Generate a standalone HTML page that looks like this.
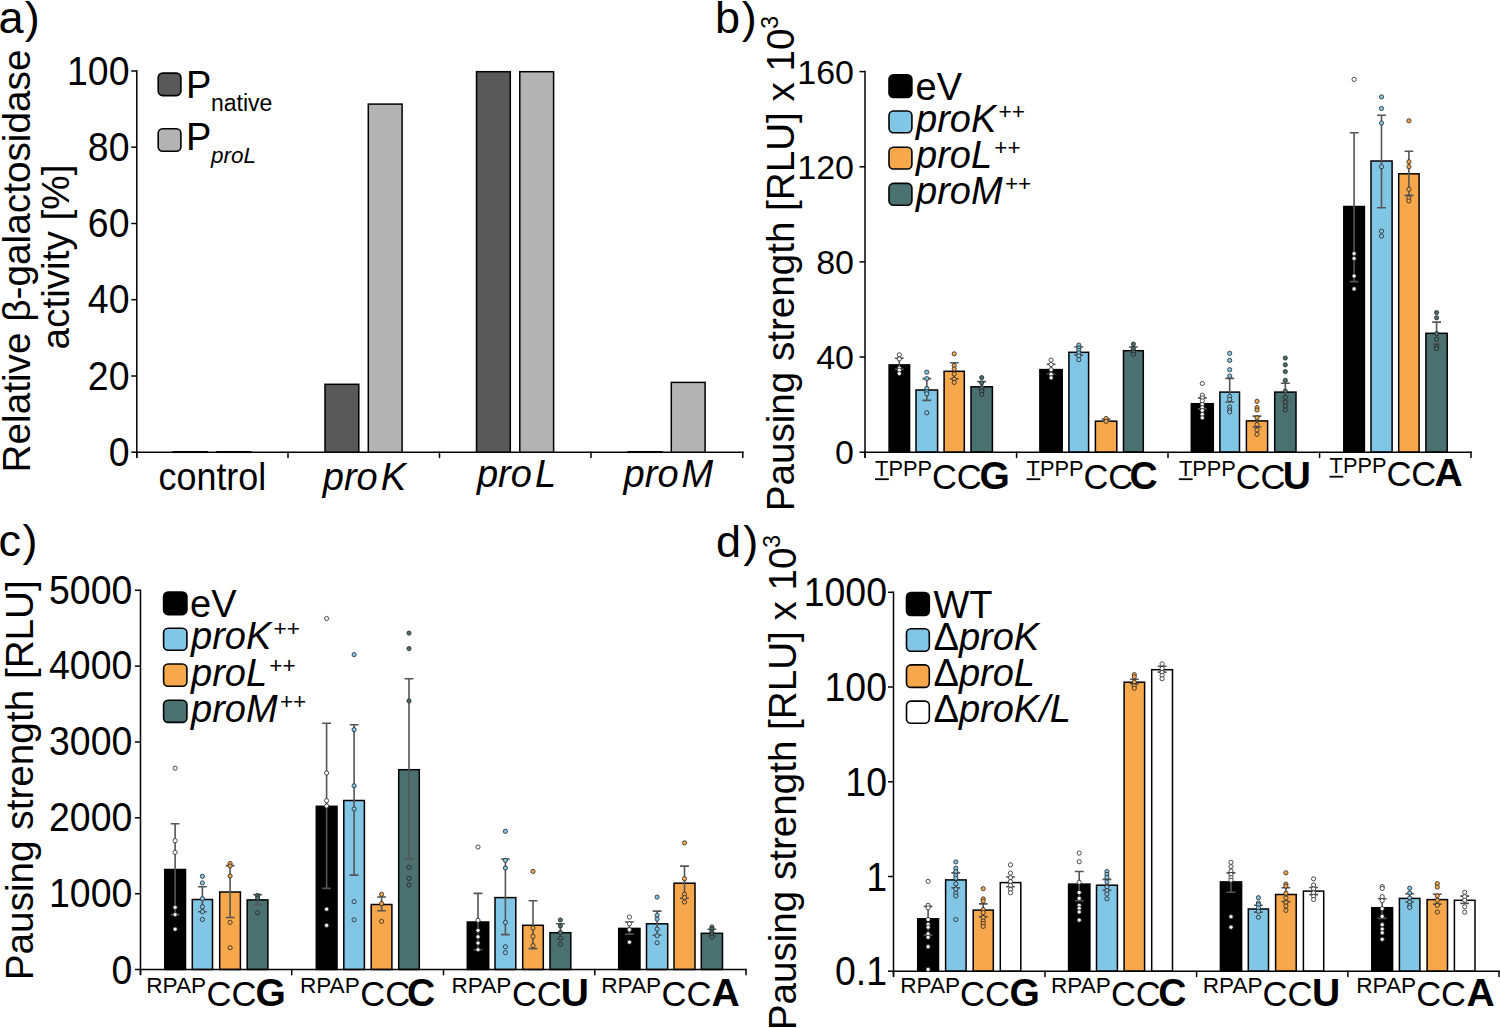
<!DOCTYPE html>
<html><head><meta charset="utf-8"><style>
html,body{margin:0;padding:0;background:#fff;overflow:hidden;}
svg{display:block;font-family:"Liberation Sans",sans-serif;}
</style></head><body>
<svg width="1500" height="1028" viewBox="0 0 1500 1028">
<rect width="1500" height="1028" fill="#fff"/>
<text x="-1.5" y="33.0" font-size="45" >a<tspan dx="1.3">)</tspan></text>
<text x="715.0" y="33.0" font-size="45" >b<tspan dx="1.8">)</tspan></text>
<text x="-1.5" y="556.0" font-size="45" >c<tspan dx="1.5">)</tspan></text>
<text x="716.0" y="556.5" font-size="45" >d<tspan dx="2.2">)</tspan></text>
<line x1="136.8" y1="70.2" x2="136.8" y2="457.5" stroke="#000" stroke-width="1.5"/>
<line x1="136.1" y1="452.2" x2="743.5" y2="452.2" stroke="#000" stroke-width="1.5"/>
<line x1="131.3" y1="452.2" x2="136.8" y2="452.2" stroke="#000" stroke-width="1.5"/>
<text transform="translate(129.5,465.8) scale(0.96,1.04)" font-size="39" text-anchor="end" >0</text>
<line x1="131.3" y1="376.0" x2="136.8" y2="376.0" stroke="#000" stroke-width="1.5"/>
<text transform="translate(129.5,389.6) scale(0.96,1.04)" font-size="39" text-anchor="end" >20</text>
<line x1="131.3" y1="299.7" x2="136.8" y2="299.7" stroke="#000" stroke-width="1.5"/>
<text transform="translate(129.5,313.3) scale(0.96,1.04)" font-size="39" text-anchor="end" >40</text>
<line x1="131.3" y1="223.5" x2="136.8" y2="223.5" stroke="#000" stroke-width="1.5"/>
<text transform="translate(129.5,237.1) scale(0.96,1.04)" font-size="39" text-anchor="end" >60</text>
<line x1="131.3" y1="147.2" x2="136.8" y2="147.2" stroke="#000" stroke-width="1.5"/>
<text transform="translate(129.5,160.8) scale(0.96,1.04)" font-size="39" text-anchor="end" >80</text>
<line x1="131.3" y1="71.0" x2="136.8" y2="71.0" stroke="#000" stroke-width="1.5"/>
<text transform="translate(129.5,84.6) scale(0.96,1.04)" font-size="39" text-anchor="end" >100</text>
<line x1="136.8" y1="452.2" x2="136.8" y2="457.5" stroke="#000" stroke-width="1.5" stroke-linecap="round"/>
<line x1="288.0" y1="452.2" x2="288.0" y2="457.5" stroke="#000" stroke-width="1.5" stroke-linecap="round"/>
<line x1="439.5" y1="452.2" x2="439.5" y2="457.5" stroke="#000" stroke-width="1.5" stroke-linecap="round"/>
<line x1="591.0" y1="452.2" x2="591.0" y2="457.5" stroke="#000" stroke-width="1.5" stroke-linecap="round"/>
<line x1="742.8" y1="452.2" x2="742.8" y2="457.5" stroke="#000" stroke-width="1.5" stroke-linecap="round"/>
<rect x="173.5" y="451.8" width="33.8" height="0.5" fill="#595959" stroke="#000" stroke-width="1.5"/>
<rect x="216.8" y="451.8" width="33.8" height="0.5" fill="#b3b3b3" stroke="#000" stroke-width="1.5"/>
<rect x="325.0" y="384.3" width="33.8" height="67.9" fill="#595959" stroke="#000" stroke-width="1.5"/>
<rect x="368.3" y="104.1" width="33.8" height="348.1" fill="#b3b3b3" stroke="#000" stroke-width="1.5"/>
<rect x="476.5" y="71.7" width="33.8" height="380.5" fill="#595959" stroke="#000" stroke-width="1.5"/>
<rect x="519.8" y="71.7" width="33.8" height="380.5" fill="#b3b3b3" stroke="#000" stroke-width="1.5"/>
<rect x="628.0" y="451.8" width="33.8" height="0.5" fill="#595959" stroke="#000" stroke-width="1.5"/>
<rect x="671.3" y="382.4" width="33.8" height="69.8" fill="#b3b3b3" stroke="#000" stroke-width="1.5"/>
<text transform="translate(212.4,489.6) scale(0.944,1.0)" font-size="38" text-anchor="middle" >control</text>
<text x="364.4" y="489.6" font-size="38" text-anchor="middle" font-style="italic" ><tspan>pro</tspan><tspan dx="3">K</tspan></text>
<text x="516.5" y="487.0" font-size="38" text-anchor="middle" font-style="italic" ><tspan>pro</tspan><tspan dx="3">L</tspan></text>
<text x="668.4" y="487.0" font-size="38" text-anchor="middle" font-style="italic" ><tspan>pro</tspan><tspan dx="3">M</tspan></text>
<rect x="158.2" y="73.1" width="22.7" height="22.5" rx="4.5" fill="#595959" stroke="#000" stroke-width="1.6"/>
<rect x="158.2" y="128.7" width="22.7" height="22.6" rx="4.5" fill="#b3b3b3" stroke="#000" stroke-width="1.6"/>
<text x="186.0" y="98.0" font-size="38" >P</text>
<text x="211.0" y="111.4" font-size="23" >native</text>
<text x="186.0" y="150.0" font-size="38" >P</text>
<text x="211.0" y="163.0" font-size="22.5" font-style="italic" >proL</text>
<text transform="translate(30,261) rotate(-90)" font-size="38.75" text-anchor="middle" >Relative β-galactosidase</text>
<text transform="translate(69,257) rotate(-90)" font-size="38.7" text-anchor="middle" >activity [%]</text>
<rect x="889.1" y="364.9" width="20.5" height="87.3" fill="#000" stroke="#000" stroke-width="1.5"/>
<rect x="916.0" y="390.0" width="21.6" height="62.2" fill="#82c6e6" stroke="#000" stroke-width="1.5"/>
<rect x="944.1" y="371.3" width="20.2" height="80.9" fill="#f7a84c" stroke="#000" stroke-width="1.5"/>
<rect x="971.0" y="386.8" width="21.4" height="65.4" fill="#4a7070" stroke="#000" stroke-width="1.5"/>
<rect x="1039.9" y="369.6" width="22.3" height="82.6" fill="#000" stroke="#000" stroke-width="1.5"/>
<rect x="1068.9" y="352.3" width="19.7" height="99.9" fill="#82c6e6" stroke="#000" stroke-width="1.5"/>
<rect x="1095.4" y="421.2" width="21.4" height="31.0" fill="#f7a84c" stroke="#000" stroke-width="1.5"/>
<rect x="1123.5" y="350.7" width="19.8" height="101.5" fill="#4a7070" stroke="#000" stroke-width="1.5"/>
<rect x="1191.3" y="403.7" width="22.0" height="48.5" fill="#000" stroke="#000" stroke-width="1.5"/>
<rect x="1219.9" y="392.1" width="19.6" height="60.1" fill="#82c6e6" stroke="#000" stroke-width="1.5"/>
<rect x="1246.4" y="420.9" width="21.2" height="31.3" fill="#f7a84c" stroke="#000" stroke-width="1.5"/>
<rect x="1274.7" y="392.1" width="21.3" height="60.1" fill="#4a7070" stroke="#000" stroke-width="1.5"/>
<rect x="1343.8" y="206.5" width="20.6" height="245.7" fill="#000" stroke="#000" stroke-width="1.5"/>
<rect x="1371.0" y="161.0" width="21.1" height="291.2" fill="#82c6e6" stroke="#000" stroke-width="1.5"/>
<rect x="1398.7" y="173.8" width="20.4" height="278.4" fill="#f7a84c" stroke="#000" stroke-width="1.5"/>
<rect x="1425.9" y="333.3" width="21.3" height="118.9" fill="#4a7070" stroke="#000" stroke-width="1.5"/>
<line x1="865.0" y1="70.8" x2="865.0" y2="457.5" stroke="#000" stroke-width="1.5"/>
<line x1="864.2" y1="452.2" x2="1471.8" y2="452.2" stroke="#000" stroke-width="1.5"/>
<line x1="859.5" y1="452.2" x2="865.0" y2="452.2" stroke="#000" stroke-width="1.5"/>
<text transform="translate(854.0,464.4) scale(1.0,1.0)" font-size="34" text-anchor="end" >0</text>
<line x1="859.5" y1="357.0" x2="865.0" y2="357.0" stroke="#000" stroke-width="1.5"/>
<text transform="translate(854.0,369.2) scale(1.0,1.0)" font-size="34" text-anchor="end" >40</text>
<line x1="859.5" y1="261.9" x2="865.0" y2="261.9" stroke="#000" stroke-width="1.5"/>
<text transform="translate(854.0,274.1) scale(1.0,1.0)" font-size="34" text-anchor="end" >80</text>
<line x1="859.5" y1="166.8" x2="865.0" y2="166.8" stroke="#000" stroke-width="1.5"/>
<text transform="translate(854.0,178.9) scale(1.0,1.0)" font-size="34" text-anchor="end" >120</text>
<line x1="859.5" y1="71.6" x2="865.0" y2="71.6" stroke="#000" stroke-width="1.5"/>
<text transform="translate(854.0,83.8) scale(1.0,1.0)" font-size="34" text-anchor="end" >160</text>
<line x1="865.0" y1="452.2" x2="865.0" y2="457.5" stroke="#000" stroke-width="1.5" stroke-linecap="round"/>
<line x1="1016.6" y1="452.2" x2="1016.6" y2="457.5" stroke="#000" stroke-width="1.5" stroke-linecap="round"/>
<line x1="1168.0" y1="452.2" x2="1168.0" y2="457.5" stroke="#000" stroke-width="1.5" stroke-linecap="round"/>
<line x1="1319.6" y1="452.2" x2="1319.6" y2="457.5" stroke="#000" stroke-width="1.5" stroke-linecap="round"/>
<line x1="1471.0" y1="452.2" x2="1471.0" y2="457.5" stroke="#000" stroke-width="1.5" stroke-linecap="round"/>
<path d="M899.3 358.2V369.2M894.9 358.2H903.7M894.9 369.2H903.7" stroke="#555" stroke-width="1.6" fill="none"/>
<circle cx="899.3" cy="354.8" r="2.1" fill="#fff" stroke="#222" stroke-width="0.8"/>
<circle cx="899.3" cy="359.0" r="2.1" fill="#fff" stroke="#222" stroke-width="0.8"/>
<circle cx="899.3" cy="368.0" r="2.1" fill="#fff" stroke="#222" stroke-width="0.8"/>
<circle cx="899.3" cy="370.2" r="2.1" fill="#fff" stroke="#222" stroke-width="0.8"/>
<circle cx="899.3" cy="373.6" r="2.1" fill="#fff" stroke="#222" stroke-width="0.8"/>
<path d="M926.8 378.6V400.4M922.4 378.6H931.2M922.4 400.4H931.2" stroke="#555" stroke-width="1.6" fill="none"/>
<circle cx="926.8" cy="372.2" r="2.1" fill="#82c6e6" stroke="#222" stroke-width="0.8"/>
<circle cx="926.8" cy="378.6" r="2.1" fill="#82c6e6" stroke="#222" stroke-width="0.8"/>
<circle cx="926.8" cy="388.4" r="2.1" fill="#82c6e6" stroke="#222" stroke-width="0.8"/>
<circle cx="926.8" cy="391.8" r="2.1" fill="#82c6e6" stroke="#222" stroke-width="0.8"/>
<circle cx="926.8" cy="393.8" r="2.1" fill="#82c6e6" stroke="#222" stroke-width="0.8"/>
<circle cx="926.8" cy="412.8" r="2.1" fill="#82c6e6" stroke="#222" stroke-width="0.8"/>
<path d="M954.2 362.8V378.8M949.8 362.8H958.6M949.8 378.8H958.6" stroke="#555" stroke-width="1.6" fill="none"/>
<circle cx="954.2" cy="353.8" r="2.1" fill="#f7a84c" stroke="#222" stroke-width="0.8"/>
<circle cx="954.2" cy="365.6" r="2.1" fill="#f7a84c" stroke="#222" stroke-width="0.8"/>
<circle cx="954.2" cy="369.0" r="2.1" fill="#f7a84c" stroke="#222" stroke-width="0.8"/>
<circle cx="954.2" cy="374.0" r="2.1" fill="#f7a84c" stroke="#222" stroke-width="0.8"/>
<circle cx="954.2" cy="379.2" r="2.1" fill="#f7a84c" stroke="#222" stroke-width="0.8"/>
<circle cx="954.2" cy="382.4" r="2.1" fill="#f7a84c" stroke="#222" stroke-width="0.8"/>
<path d="M981.7 381.6V389.4M977.3 381.6H986.1M977.3 389.4H986.1" stroke="#555" stroke-width="1.6" fill="none"/>
<circle cx="981.7" cy="377.6" r="2.1" fill="#4a7070" stroke="#222" stroke-width="0.8"/>
<circle cx="981.7" cy="383.0" r="2.1" fill="#4a7070" stroke="#222" stroke-width="0.8"/>
<circle cx="981.7" cy="387.8" r="2.1" fill="#4a7070" stroke="#222" stroke-width="0.8"/>
<circle cx="981.7" cy="391.2" r="2.1" fill="#4a7070" stroke="#222" stroke-width="0.8"/>
<circle cx="981.7" cy="394.4" r="2.1" fill="#4a7070" stroke="#222" stroke-width="0.8"/>
<path d="M1051.1 364.2V374.0M1046.7 364.2H1055.5M1046.7 374.0H1055.5" stroke="#555" stroke-width="1.6" fill="none"/>
<circle cx="1051.1" cy="360.1" r="2.1" fill="#fff" stroke="#222" stroke-width="0.8"/>
<circle cx="1051.1" cy="364.5" r="2.1" fill="#fff" stroke="#222" stroke-width="0.8"/>
<circle cx="1051.1" cy="369.7" r="2.1" fill="#fff" stroke="#222" stroke-width="0.8"/>
<circle cx="1051.1" cy="374.2" r="2.1" fill="#fff" stroke="#222" stroke-width="0.8"/>
<circle cx="1051.1" cy="377.8" r="2.1" fill="#fff" stroke="#222" stroke-width="0.8"/>
<path d="M1078.8 347.0V355.1M1074.3 347.0H1083.2M1074.3 355.1H1083.2" stroke="#555" stroke-width="1.6" fill="none"/>
<circle cx="1078.8" cy="345.1" r="2.1" fill="#82c6e6" stroke="#222" stroke-width="0.8"/>
<circle cx="1078.8" cy="348.0" r="2.1" fill="#82c6e6" stroke="#222" stroke-width="0.8"/>
<circle cx="1078.8" cy="350.4" r="2.1" fill="#82c6e6" stroke="#222" stroke-width="0.8"/>
<circle cx="1078.8" cy="352.9" r="2.1" fill="#82c6e6" stroke="#222" stroke-width="0.8"/>
<circle cx="1078.8" cy="355.8" r="2.1" fill="#82c6e6" stroke="#222" stroke-width="0.8"/>
<circle cx="1078.8" cy="359.7" r="2.1" fill="#82c6e6" stroke="#222" stroke-width="0.8"/>
<path d="M1106.1 419.0V421.0M1101.7 419.0H1110.5M1101.7 421.0H1110.5" stroke="#555" stroke-width="1.6" fill="none"/>
<circle cx="1106.1" cy="418.5" r="2.1" fill="#f7a84c" stroke="#222" stroke-width="0.8"/>
<circle cx="1106.1" cy="421.4" r="2.1" fill="#f7a84c" stroke="#222" stroke-width="0.8"/>
<path d="M1133.4 347.0V351.9M1129.0 347.0H1137.8M1129.0 351.9H1137.8" stroke="#555" stroke-width="1.6" fill="none"/>
<circle cx="1133.4" cy="344.1" r="2.1" fill="#4a7070" stroke="#222" stroke-width="0.8"/>
<circle cx="1133.4" cy="348.5" r="2.1" fill="#4a7070" stroke="#222" stroke-width="0.8"/>
<circle cx="1133.4" cy="351.9" r="2.1" fill="#4a7070" stroke="#222" stroke-width="0.8"/>
<circle cx="1133.4" cy="354.3" r="2.1" fill="#4a7070" stroke="#222" stroke-width="0.8"/>
<path d="M1202.3 397.9V408.9M1197.9 397.9H1206.7M1197.9 408.9H1206.7" stroke="#555" stroke-width="1.6" fill="none"/>
<circle cx="1202.3" cy="383.5" r="2.1" fill="#fff" stroke="#222" stroke-width="0.8"/>
<circle cx="1202.3" cy="395.2" r="2.1" fill="#fff" stroke="#222" stroke-width="0.8"/>
<circle cx="1202.3" cy="397.9" r="2.1" fill="#fff" stroke="#222" stroke-width="0.8"/>
<circle cx="1202.3" cy="400.8" r="2.1" fill="#fff" stroke="#222" stroke-width="0.8"/>
<circle cx="1202.3" cy="404.4" r="2.1" fill="#fff" stroke="#222" stroke-width="0.8"/>
<circle cx="1202.3" cy="407.6" r="2.1" fill="#fff" stroke="#222" stroke-width="0.8"/>
<circle cx="1202.3" cy="410.5" r="2.1" fill="#fff" stroke="#222" stroke-width="0.8"/>
<circle cx="1202.3" cy="414.4" r="2.1" fill="#fff" stroke="#222" stroke-width="0.8"/>
<circle cx="1202.3" cy="417.8" r="2.1" fill="#fff" stroke="#222" stroke-width="0.8"/>
<path d="M1229.7 378.4V402.0M1225.3 378.4H1234.1M1225.3 402.0H1234.1" stroke="#555" stroke-width="1.6" fill="none"/>
<circle cx="1229.7" cy="353.3" r="2.1" fill="#82c6e6" stroke="#222" stroke-width="0.8"/>
<circle cx="1229.7" cy="360.4" r="2.1" fill="#82c6e6" stroke="#222" stroke-width="0.8"/>
<circle cx="1229.7" cy="369.7" r="2.1" fill="#82c6e6" stroke="#222" stroke-width="0.8"/>
<circle cx="1229.7" cy="376.0" r="2.1" fill="#82c6e6" stroke="#222" stroke-width="0.8"/>
<circle cx="1229.7" cy="396.4" r="2.1" fill="#82c6e6" stroke="#222" stroke-width="0.8"/>
<circle cx="1229.7" cy="399.5" r="2.1" fill="#82c6e6" stroke="#222" stroke-width="0.8"/>
<circle cx="1229.7" cy="406.9" r="2.1" fill="#82c6e6" stroke="#222" stroke-width="0.8"/>
<circle cx="1229.7" cy="410.0" r="2.1" fill="#82c6e6" stroke="#222" stroke-width="0.8"/>
<circle cx="1229.7" cy="412.0" r="2.1" fill="#82c6e6" stroke="#222" stroke-width="0.8"/>
<path d="M1257.0 416.1V427.0M1252.6 416.1H1261.4M1252.6 427.0H1261.4" stroke="#555" stroke-width="1.6" fill="none"/>
<circle cx="1257.0" cy="401.3" r="2.1" fill="#f7a84c" stroke="#222" stroke-width="0.8"/>
<circle cx="1257.0" cy="407.6" r="2.1" fill="#f7a84c" stroke="#222" stroke-width="0.8"/>
<circle cx="1257.0" cy="410.0" r="2.1" fill="#f7a84c" stroke="#222" stroke-width="0.8"/>
<circle cx="1257.0" cy="417.8" r="2.1" fill="#f7a84c" stroke="#222" stroke-width="0.8"/>
<circle cx="1257.0" cy="424.6" r="2.1" fill="#f7a84c" stroke="#222" stroke-width="0.8"/>
<circle cx="1257.0" cy="430.0" r="2.1" fill="#f7a84c" stroke="#222" stroke-width="0.8"/>
<circle cx="1257.0" cy="434.3" r="2.1" fill="#f7a84c" stroke="#222" stroke-width="0.8"/>
<path d="M1285.3 383.3V400.5M1280.9 383.3H1289.8M1280.9 400.5H1289.8" stroke="#555" stroke-width="1.6" fill="none"/>
<circle cx="1285.3" cy="358.0" r="2.1" fill="#4a7070" stroke="#222" stroke-width="0.8"/>
<circle cx="1285.3" cy="364.8" r="2.1" fill="#4a7070" stroke="#222" stroke-width="0.8"/>
<circle cx="1285.3" cy="371.6" r="2.1" fill="#4a7070" stroke="#222" stroke-width="0.8"/>
<circle cx="1285.3" cy="380.4" r="2.1" fill="#4a7070" stroke="#222" stroke-width="0.8"/>
<circle cx="1285.3" cy="391.1" r="2.1" fill="#4a7070" stroke="#222" stroke-width="0.8"/>
<circle cx="1285.3" cy="397.4" r="2.1" fill="#4a7070" stroke="#222" stroke-width="0.8"/>
<circle cx="1285.3" cy="402.2" r="2.1" fill="#4a7070" stroke="#222" stroke-width="0.8"/>
<circle cx="1285.3" cy="406.1" r="2.1" fill="#4a7070" stroke="#222" stroke-width="0.8"/>
<circle cx="1285.3" cy="410.0" r="2.1" fill="#4a7070" stroke="#222" stroke-width="0.8"/>
<path d="M1354.1 132.7V281.6M1349.7 132.7H1358.5M1349.7 281.6H1358.5" stroke="#555" stroke-width="1.6" fill="none"/>
<circle cx="1354.1" cy="79.4" r="2.1" fill="#fff" stroke="#222" stroke-width="0.8"/>
<circle cx="1354.1" cy="253.6" r="2.1" fill="#fff" stroke="#222" stroke-width="0.8"/>
<circle cx="1354.1" cy="258.5" r="2.1" fill="#fff" stroke="#222" stroke-width="0.8"/>
<circle cx="1354.1" cy="276.0" r="2.1" fill="#fff" stroke="#222" stroke-width="0.8"/>
<circle cx="1354.1" cy="288.9" r="2.1" fill="#fff" stroke="#222" stroke-width="0.8"/>
<path d="M1381.5 115.2V207.7M1377.1 115.2H1386.0M1377.1 207.7H1386.0" stroke="#555" stroke-width="1.6" fill="none"/>
<circle cx="1381.5" cy="96.9" r="2.1" fill="#82c6e6" stroke="#222" stroke-width="0.8"/>
<circle cx="1381.5" cy="108.5" r="2.1" fill="#82c6e6" stroke="#222" stroke-width="0.8"/>
<circle cx="1381.5" cy="123.1" r="2.1" fill="#82c6e6" stroke="#222" stroke-width="0.8"/>
<circle cx="1381.5" cy="166.7" r="2.1" fill="#82c6e6" stroke="#222" stroke-width="0.8"/>
<circle cx="1381.5" cy="231.2" r="2.1" fill="#82c6e6" stroke="#222" stroke-width="0.8"/>
<circle cx="1381.5" cy="236.1" r="2.1" fill="#82c6e6" stroke="#222" stroke-width="0.8"/>
<path d="M1408.9 151.3V195.4M1404.5 151.3H1413.3M1404.5 195.4H1413.3" stroke="#555" stroke-width="1.6" fill="none"/>
<circle cx="1408.9" cy="120.8" r="2.1" fill="#f7a84c" stroke="#222" stroke-width="0.8"/>
<circle cx="1408.9" cy="161.8" r="2.1" fill="#f7a84c" stroke="#222" stroke-width="0.8"/>
<circle cx="1408.9" cy="166.7" r="2.1" fill="#f7a84c" stroke="#222" stroke-width="0.8"/>
<circle cx="1408.9" cy="189.3" r="2.1" fill="#f7a84c" stroke="#222" stroke-width="0.8"/>
<circle cx="1408.9" cy="198.0" r="2.1" fill="#f7a84c" stroke="#222" stroke-width="0.8"/>
<circle cx="1408.9" cy="201.0" r="2.1" fill="#f7a84c" stroke="#222" stroke-width="0.8"/>
<path d="M1436.6 322.1V344.1M1432.2 322.1H1441.0M1432.2 344.1H1441.0" stroke="#555" stroke-width="1.6" fill="none"/>
<circle cx="1436.6" cy="312.6" r="2.1" fill="#4a7070" stroke="#222" stroke-width="0.8"/>
<circle cx="1436.6" cy="317.8" r="2.1" fill="#4a7070" stroke="#222" stroke-width="0.8"/>
<circle cx="1436.6" cy="333.6" r="2.1" fill="#4a7070" stroke="#222" stroke-width="0.8"/>
<circle cx="1436.6" cy="339.2" r="2.1" fill="#4a7070" stroke="#222" stroke-width="0.8"/>
<circle cx="1436.6" cy="346.4" r="2.1" fill="#4a7070" stroke="#222" stroke-width="0.8"/>
<circle cx="1436.6" cy="348.5" r="2.1" fill="#4a7070" stroke="#222" stroke-width="0.8"/>
<text x="875.1" y="475.9" font-size="21.8">TPPP</text>
<text x="931.9" y="488.6" font-size="34.5">CC</text>
<text x="979.6" y="488.6" font-size="39" font-weight="bold">G</text>
<line x1="875.0" y1="479.2" x2="888.8" y2="479.2" stroke="#000" stroke-width="1.8"/>
<text x="1026.6" y="475.9" font-size="21.8">TPPP</text>
<text x="1083.4" y="488.6" font-size="34.5">CC</text>
<text x="1129.4" y="488.6" font-size="39" font-weight="bold">C</text>
<line x1="1026.5" y1="479.2" x2="1040.3" y2="479.2" stroke="#000" stroke-width="1.8"/>
<text x="1178.9" y="475.9" font-size="21.8">TPPP</text>
<text x="1235.7" y="488.6" font-size="34.5">CC</text>
<text x="1282.8" y="488.6" font-size="39" font-weight="bold">U</text>
<line x1="1178.8" y1="479.2" x2="1192.6" y2="479.2" stroke="#000" stroke-width="1.8"/>
<text x="1329.6" y="473.4" font-size="21.8">TPPP</text>
<text x="1386.4" y="486.1" font-size="34.5">CC</text>
<text x="1434.6" y="486.1" font-size="39" font-weight="bold">A</text>
<line x1="1329.5" y1="476.7" x2="1343.3" y2="476.7" stroke="#000" stroke-width="1.8"/>
<rect x="889.0" y="74.8" width="22.9" height="22.6" rx="4.5" fill="#000" stroke="#000" stroke-width="1.6"/>
<rect x="889.0" y="111.0" width="22.9" height="21.8" rx="4.5" fill="#82c6e6" stroke="#000" stroke-width="1.6"/>
<rect x="889.0" y="147.2" width="22.9" height="21.8" rx="4.5" fill="#f7a84c" stroke="#000" stroke-width="1.6"/>
<rect x="889.0" y="183.4" width="22.9" height="21.8" rx="4.5" fill="#4a7070" stroke="#000" stroke-width="1.6"/>
<text x="915.5" y="99.8" font-size="38" >eV</text>
<text x="916" y="132.4" font-size="38" font-style="italic">proK<tspan font-size="22.6" font-style="normal" dx="2.3" dy="-13">++</tspan></text>
<text x="916" y="168.2" font-size="38" font-style="italic">proL<tspan font-size="22.6" font-style="normal" dx="2.3" dy="-13">++</tspan></text>
<text x="916" y="204" font-size="38" font-style="italic">proM<tspan font-size="22.6" font-style="normal" dx="2.3" dy="-13">++</tspan></text>
<text transform="translate(794,263.5) rotate(-90)" font-size="38.6" text-anchor="middle" >Pausing strength [RLU] x 10<tspan font-size="23" dy="-16">3</tspan></text>
<rect x="164.8" y="869.5" width="20.7" height="100.0" fill="#000" stroke="#000" stroke-width="1.5"/>
<rect x="192.3" y="899.5" width="20.2" height="70.0" fill="#82c6e6" stroke="#000" stroke-width="1.5"/>
<rect x="219.7" y="892.0" width="20.7" height="77.5" fill="#f7a84c" stroke="#000" stroke-width="1.5"/>
<rect x="247.2" y="899.9" width="20.7" height="69.6" fill="#4a7070" stroke="#000" stroke-width="1.5"/>
<rect x="316.3" y="806.3" width="20.7" height="163.2" fill="#000" stroke="#000" stroke-width="1.5"/>
<rect x="343.8" y="800.5" width="20.6" height="169.0" fill="#82c6e6" stroke="#000" stroke-width="1.5"/>
<rect x="371.2" y="904.5" width="20.7" height="65.0" fill="#f7a84c" stroke="#000" stroke-width="1.5"/>
<rect x="398.7" y="769.7" width="20.6" height="199.8" fill="#4a7070" stroke="#000" stroke-width="1.5"/>
<rect x="467.3" y="922.0" width="21.4" height="47.5" fill="#000" stroke="#000" stroke-width="1.5"/>
<rect x="495.0" y="897.6" width="20.8" height="71.9" fill="#82c6e6" stroke="#000" stroke-width="1.5"/>
<rect x="522.7" y="925.3" width="20.6" height="44.2" fill="#f7a84c" stroke="#000" stroke-width="1.5"/>
<rect x="550.0" y="932.7" width="20.8" height="36.8" fill="#4a7070" stroke="#000" stroke-width="1.5"/>
<rect x="618.7" y="928.4" width="21.3" height="41.1" fill="#000" stroke="#000" stroke-width="1.5"/>
<rect x="646.5" y="923.8" width="21.2" height="45.7" fill="#82c6e6" stroke="#000" stroke-width="1.5"/>
<rect x="674.0" y="883.2" width="21.0" height="86.3" fill="#f7a84c" stroke="#000" stroke-width="1.5"/>
<rect x="701.3" y="933.3" width="21.2" height="36.2" fill="#4a7070" stroke="#000" stroke-width="1.5"/>
<line x1="140.5" y1="589.5" x2="140.5" y2="974.8" stroke="#000" stroke-width="1.5"/>
<line x1="139.8" y1="969.5" x2="746.8" y2="969.5" stroke="#000" stroke-width="1.5"/>
<line x1="135.0" y1="969.5" x2="140.5" y2="969.5" stroke="#000" stroke-width="1.5"/>
<text transform="translate(132.3,984.4) scale(0.96,1.04)" font-size="39" text-anchor="end" >0</text>
<line x1="135.0" y1="893.7" x2="140.5" y2="893.7" stroke="#000" stroke-width="1.5"/>
<text transform="translate(132.3,907.0) scale(0.96,1.04)" font-size="39" text-anchor="end" >1000</text>
<line x1="135.0" y1="817.8" x2="140.5" y2="817.8" stroke="#000" stroke-width="1.5"/>
<text transform="translate(132.3,831.1) scale(0.96,1.04)" font-size="39" text-anchor="end" >2000</text>
<line x1="135.0" y1="742.0" x2="140.5" y2="742.0" stroke="#000" stroke-width="1.5"/>
<text transform="translate(132.3,755.3) scale(0.96,1.04)" font-size="39" text-anchor="end" >3000</text>
<line x1="135.0" y1="666.1" x2="140.5" y2="666.1" stroke="#000" stroke-width="1.5"/>
<text transform="translate(132.3,679.4) scale(0.96,1.04)" font-size="39" text-anchor="end" >4000</text>
<line x1="135.0" y1="590.3" x2="140.5" y2="590.3" stroke="#000" stroke-width="1.5"/>
<text transform="translate(132.3,603.6) scale(0.96,1.04)" font-size="39" text-anchor="end" >5000</text>
<line x1="140.5" y1="969.5" x2="140.5" y2="974.8" stroke="#000" stroke-width="1.5" stroke-linecap="round"/>
<line x1="291.7" y1="969.5" x2="291.7" y2="974.8" stroke="#000" stroke-width="1.5" stroke-linecap="round"/>
<line x1="443.5" y1="969.5" x2="443.5" y2="974.8" stroke="#000" stroke-width="1.5" stroke-linecap="round"/>
<line x1="594.8" y1="969.5" x2="594.8" y2="974.8" stroke="#000" stroke-width="1.5" stroke-linecap="round"/>
<line x1="746.0" y1="969.5" x2="746.0" y2="974.8" stroke="#000" stroke-width="1.5" stroke-linecap="round"/>
<path d="M175.1 823.8V914.6M170.7 823.8H179.5M170.7 914.6H179.5" stroke="#555" stroke-width="1.6" fill="none"/>
<circle cx="175.1" cy="768.2" r="2.1" fill="#fff" stroke="#222" stroke-width="0.8"/>
<circle cx="175.1" cy="840.7" r="2.1" fill="#fff" stroke="#222" stroke-width="0.8"/>
<circle cx="175.1" cy="852.4" r="2.1" fill="#fff" stroke="#222" stroke-width="0.8"/>
<circle cx="175.1" cy="907.4" r="2.1" fill="#fff" stroke="#222" stroke-width="0.8"/>
<circle cx="175.1" cy="914.6" r="2.1" fill="#fff" stroke="#222" stroke-width="0.8"/>
<circle cx="175.1" cy="929.2" r="2.1" fill="#fff" stroke="#222" stroke-width="0.8"/>
<path d="M202.4 886.8V911.7M198.0 886.8H206.8M198.0 911.7H206.8" stroke="#555" stroke-width="1.6" fill="none"/>
<circle cx="202.4" cy="876.3" r="2.1" fill="#82c6e6" stroke="#222" stroke-width="0.8"/>
<circle cx="202.4" cy="882.9" r="2.1" fill="#82c6e6" stroke="#222" stroke-width="0.8"/>
<circle cx="202.4" cy="898.7" r="2.1" fill="#82c6e6" stroke="#222" stroke-width="0.8"/>
<circle cx="202.4" cy="906.8" r="2.1" fill="#82c6e6" stroke="#222" stroke-width="0.8"/>
<circle cx="202.4" cy="911.7" r="2.1" fill="#82c6e6" stroke="#222" stroke-width="0.8"/>
<circle cx="202.4" cy="919.5" r="2.1" fill="#82c6e6" stroke="#222" stroke-width="0.8"/>
<path d="M230.1 865.6V917.5M225.7 865.6H234.5M225.7 917.5H234.5" stroke="#555" stroke-width="1.6" fill="none"/>
<circle cx="230.1" cy="863.5" r="2.1" fill="#f7a84c" stroke="#222" stroke-width="0.8"/>
<circle cx="230.1" cy="866.0" r="2.1" fill="#f7a84c" stroke="#222" stroke-width="0.8"/>
<circle cx="230.1" cy="876.1" r="2.1" fill="#f7a84c" stroke="#222" stroke-width="0.8"/>
<circle cx="230.1" cy="922.4" r="2.1" fill="#f7a84c" stroke="#222" stroke-width="0.8"/>
<circle cx="230.1" cy="947.7" r="2.1" fill="#f7a84c" stroke="#222" stroke-width="0.8"/>
<path d="M257.6 894.6V904.5M253.2 894.6H261.9M253.2 904.5H261.9" stroke="#555" stroke-width="1.6" fill="none"/>
<circle cx="257.6" cy="895.5" r="2.1" fill="#4a7070" stroke="#222" stroke-width="0.8"/>
<circle cx="257.6" cy="898.0" r="2.1" fill="#4a7070" stroke="#222" stroke-width="0.8"/>
<circle cx="257.6" cy="912.7" r="2.1" fill="#4a7070" stroke="#222" stroke-width="0.8"/>
<path d="M326.6 723.3V888.4M322.2 723.3H331.0M322.2 888.4H331.0" stroke="#555" stroke-width="1.6" fill="none"/>
<circle cx="326.6" cy="618.5" r="2.1" fill="#fff" stroke="#222" stroke-width="0.8"/>
<circle cx="326.6" cy="773.0" r="2.1" fill="#fff" stroke="#222" stroke-width="0.8"/>
<circle cx="326.6" cy="800.7" r="2.1" fill="#fff" stroke="#222" stroke-width="0.8"/>
<circle cx="326.6" cy="806.0" r="2.1" fill="#fff" stroke="#222" stroke-width="0.8"/>
<circle cx="326.6" cy="909.2" r="2.1" fill="#fff" stroke="#222" stroke-width="0.8"/>
<circle cx="326.6" cy="925.4" r="2.1" fill="#fff" stroke="#222" stroke-width="0.8"/>
<path d="M354.1 724.7V875.1M349.7 724.7H358.5M349.7 875.1H358.5" stroke="#555" stroke-width="1.6" fill="none"/>
<circle cx="354.1" cy="654.6" r="2.1" fill="#82c6e6" stroke="#222" stroke-width="0.8"/>
<circle cx="354.1" cy="729.6" r="2.1" fill="#82c6e6" stroke="#222" stroke-width="0.8"/>
<circle cx="354.1" cy="785.8" r="2.1" fill="#82c6e6" stroke="#222" stroke-width="0.8"/>
<circle cx="354.1" cy="809.0" r="2.1" fill="#82c6e6" stroke="#222" stroke-width="0.8"/>
<circle cx="354.1" cy="901.6" r="2.1" fill="#82c6e6" stroke="#222" stroke-width="0.8"/>
<circle cx="354.1" cy="919.8" r="2.1" fill="#82c6e6" stroke="#222" stroke-width="0.8"/>
<path d="M381.6 897.0V910.8M377.2 897.0H385.9M377.2 910.8H385.9" stroke="#555" stroke-width="1.6" fill="none"/>
<circle cx="381.6" cy="894.3" r="2.1" fill="#f7a84c" stroke="#222" stroke-width="0.8"/>
<circle cx="381.6" cy="903.6" r="2.1" fill="#f7a84c" stroke="#222" stroke-width="0.8"/>
<circle cx="381.6" cy="921.4" r="2.1" fill="#f7a84c" stroke="#222" stroke-width="0.8"/>
<path d="M409.0 678.7V858.9M404.6 678.7H413.4M404.6 858.9H413.4" stroke="#555" stroke-width="1.6" fill="none"/>
<circle cx="409.0" cy="633.1" r="2.1" fill="#4a7070" stroke="#222" stroke-width="0.8"/>
<circle cx="409.0" cy="648.6" r="2.1" fill="#4a7070" stroke="#222" stroke-width="0.8"/>
<circle cx="409.0" cy="700.9" r="2.1" fill="#4a7070" stroke="#222" stroke-width="0.8"/>
<circle cx="409.0" cy="867.2" r="2.1" fill="#4a7070" stroke="#222" stroke-width="0.8"/>
<circle cx="409.0" cy="878.4" r="2.1" fill="#4a7070" stroke="#222" stroke-width="0.8"/>
<circle cx="409.0" cy="885.0" r="2.1" fill="#4a7070" stroke="#222" stroke-width="0.8"/>
<path d="M478.0 893.4V949.7M473.6 893.4H482.4M473.6 949.7H482.4" stroke="#555" stroke-width="1.6" fill="none"/>
<circle cx="478.0" cy="847.0" r="2.1" fill="#fff" stroke="#222" stroke-width="0.8"/>
<circle cx="478.0" cy="920.4" r="2.1" fill="#fff" stroke="#222" stroke-width="0.8"/>
<circle cx="478.0" cy="930.4" r="2.1" fill="#fff" stroke="#222" stroke-width="0.8"/>
<circle cx="478.0" cy="936.8" r="2.1" fill="#fff" stroke="#222" stroke-width="0.8"/>
<circle cx="478.0" cy="943.0" r="2.1" fill="#fff" stroke="#222" stroke-width="0.8"/>
<circle cx="478.0" cy="949.7" r="2.1" fill="#fff" stroke="#222" stroke-width="0.8"/>
<path d="M505.4 859.0V934.6M501.0 859.0H509.8M501.0 934.6H509.8" stroke="#555" stroke-width="1.6" fill="none"/>
<circle cx="505.4" cy="831.3" r="2.1" fill="#82c6e6" stroke="#222" stroke-width="0.8"/>
<circle cx="505.4" cy="860.3" r="2.1" fill="#82c6e6" stroke="#222" stroke-width="0.8"/>
<circle cx="505.4" cy="868.1" r="2.1" fill="#82c6e6" stroke="#222" stroke-width="0.8"/>
<circle cx="505.4" cy="922.4" r="2.1" fill="#82c6e6" stroke="#222" stroke-width="0.8"/>
<circle cx="505.4" cy="946.8" r="2.1" fill="#82c6e6" stroke="#222" stroke-width="0.8"/>
<circle cx="505.4" cy="952.6" r="2.1" fill="#82c6e6" stroke="#222" stroke-width="0.8"/>
<path d="M533.0 900.7V948.6M528.6 900.7H537.4M528.6 948.6H537.4" stroke="#555" stroke-width="1.6" fill="none"/>
<circle cx="533.0" cy="871.4" r="2.1" fill="#f7a84c" stroke="#222" stroke-width="0.8"/>
<circle cx="533.0" cy="928.0" r="2.1" fill="#f7a84c" stroke="#222" stroke-width="0.8"/>
<circle cx="533.0" cy="936.4" r="2.1" fill="#f7a84c" stroke="#222" stroke-width="0.8"/>
<circle cx="533.0" cy="945.7" r="2.1" fill="#f7a84c" stroke="#222" stroke-width="0.8"/>
<path d="M560.4 923.8V939.3M556.0 923.8H564.8M556.0 939.3H564.8" stroke="#555" stroke-width="1.6" fill="none"/>
<circle cx="560.4" cy="920.0" r="2.1" fill="#4a7070" stroke="#222" stroke-width="0.8"/>
<circle cx="560.4" cy="926.0" r="2.1" fill="#4a7070" stroke="#222" stroke-width="0.8"/>
<circle cx="560.4" cy="932.4" r="2.1" fill="#4a7070" stroke="#222" stroke-width="0.8"/>
<circle cx="560.4" cy="938.2" r="2.1" fill="#4a7070" stroke="#222" stroke-width="0.8"/>
<circle cx="560.4" cy="944.2" r="2.1" fill="#4a7070" stroke="#222" stroke-width="0.8"/>
<path d="M629.4 922.0V934.2M625.0 922.0H633.8M625.0 934.2H633.8" stroke="#555" stroke-width="1.6" fill="none"/>
<circle cx="629.4" cy="917.1" r="2.1" fill="#fff" stroke="#222" stroke-width="0.8"/>
<circle cx="629.4" cy="923.8" r="2.1" fill="#fff" stroke="#222" stroke-width="0.8"/>
<circle cx="629.4" cy="929.7" r="2.1" fill="#fff" stroke="#222" stroke-width="0.8"/>
<circle cx="629.4" cy="942.2" r="2.1" fill="#fff" stroke="#222" stroke-width="0.8"/>
<path d="M657.1 911.1V935.3M652.7 911.1H661.5M652.7 935.3H661.5" stroke="#555" stroke-width="1.6" fill="none"/>
<circle cx="657.1" cy="897.1" r="2.1" fill="#82c6e6" stroke="#222" stroke-width="0.8"/>
<circle cx="657.1" cy="915.3" r="2.1" fill="#82c6e6" stroke="#222" stroke-width="0.8"/>
<circle cx="657.1" cy="919.1" r="2.1" fill="#82c6e6" stroke="#222" stroke-width="0.8"/>
<circle cx="657.1" cy="929.1" r="2.1" fill="#82c6e6" stroke="#222" stroke-width="0.8"/>
<circle cx="657.1" cy="935.7" r="2.1" fill="#82c6e6" stroke="#222" stroke-width="0.8"/>
<circle cx="657.1" cy="942.8" r="2.1" fill="#82c6e6" stroke="#222" stroke-width="0.8"/>
<path d="M684.5 866.1V898.2M680.1 866.1H688.9M680.1 898.2H688.9" stroke="#555" stroke-width="1.6" fill="none"/>
<circle cx="684.5" cy="842.8" r="2.1" fill="#f7a84c" stroke="#222" stroke-width="0.8"/>
<circle cx="684.5" cy="878.7" r="2.1" fill="#f7a84c" stroke="#222" stroke-width="0.8"/>
<circle cx="684.5" cy="894.3" r="2.1" fill="#f7a84c" stroke="#222" stroke-width="0.8"/>
<circle cx="684.5" cy="897.6" r="2.1" fill="#f7a84c" stroke="#222" stroke-width="0.8"/>
<circle cx="684.5" cy="902.0" r="2.1" fill="#f7a84c" stroke="#222" stroke-width="0.8"/>
<path d="M711.9 929.3V936.0M707.5 929.3H716.3M707.5 936.0H716.3" stroke="#555" stroke-width="1.6" fill="none"/>
<circle cx="711.9" cy="927.0" r="2.1" fill="#4a7070" stroke="#222" stroke-width="0.8"/>
<circle cx="711.9" cy="929.5" r="2.1" fill="#4a7070" stroke="#222" stroke-width="0.8"/>
<circle cx="711.9" cy="932.0" r="2.1" fill="#4a7070" stroke="#222" stroke-width="0.8"/>
<circle cx="711.9" cy="934.5" r="2.1" fill="#4a7070" stroke="#222" stroke-width="0.8"/>
<circle cx="711.9" cy="937.0" r="2.1" fill="#4a7070" stroke="#222" stroke-width="0.8"/>
<text x="146.2" y="993.1" font-size="22.6">RPAP</text>
<text x="206.6" y="1005.8" font-size="34.5">CC</text>
<text x="255.4" y="1005.8" font-size="39" font-weight="bold">G</text>
<text x="299.9" y="993.1" font-size="22.6">RPAP</text>
<text x="360.3" y="1005.8" font-size="34.5">CC</text>
<text x="407.1" y="1005.8" font-size="39" font-weight="bold">C</text>
<text x="451.5" y="993.1" font-size="22.6">RPAP</text>
<text x="511.9" y="1005.8" font-size="34.5">CC</text>
<text x="560.7" y="1005.8" font-size="39" font-weight="bold">U</text>
<text x="601.2" y="993.1" font-size="22.6">RPAP</text>
<text x="661.6" y="1005.8" font-size="34.5">CC</text>
<text x="711.4" y="1005.8" font-size="39" font-weight="bold">A</text>
<rect x="163.6" y="592.1" width="23.3" height="22.5" rx="4.5" fill="#000" stroke="#000" stroke-width="1.6"/>
<rect x="163.6" y="628.2" width="23.3" height="22.1" rx="4.5" fill="#82c6e6" stroke="#000" stroke-width="1.6"/>
<rect x="163.6" y="664.0" width="23.3" height="22.3" rx="4.5" fill="#f7a84c" stroke="#000" stroke-width="1.6"/>
<rect x="163.6" y="700.3" width="23.3" height="22.1" rx="4.5" fill="#4a7070" stroke="#000" stroke-width="1.6"/>
<text x="190.0" y="617.0" font-size="38" >eV</text>
<text x="191" y="649.3" font-size="38" font-style="italic">proK<tspan font-size="22.6" font-style="normal" dx="2.3" dy="-13">++</tspan></text>
<text x="191" y="685.5" font-size="38" font-style="italic">proL<tspan font-size="22.6" font-style="normal" dx="2.3" dy="-13">++</tspan></text>
<text x="191" y="721.6" font-size="38" font-style="italic">proM<tspan font-size="22.6" font-style="normal" dx="2.3" dy="-13">++</tspan></text>
<text transform="translate(33.4,780.2) rotate(-90)" font-size="38.7" text-anchor="middle" >Pausing strength [RLU]</text>
<rect x="917.7" y="918.8" width="20.8" height="52.4" fill="#000" stroke="#000" stroke-width="1.5"/>
<rect x="945.6" y="879.9" width="20.5" height="91.3" fill="#82c6e6" stroke="#000" stroke-width="1.5"/>
<rect x="973.2" y="910.1" width="20.1" height="61.1" fill="#f7a84c" stroke="#000" stroke-width="1.5"/>
<rect x="1000.3" y="882.6" width="20.5" height="88.6" fill="#fff" stroke="#000" stroke-width="1.5"/>
<rect x="1068.6" y="884.1" width="21.3" height="87.1" fill="#000" stroke="#000" stroke-width="1.5"/>
<rect x="1096.5" y="885.2" width="20.9" height="86.0" fill="#82c6e6" stroke="#000" stroke-width="1.5"/>
<rect x="1124.1" y="682.2" width="20.5" height="289.0" fill="#f7a84c" stroke="#000" stroke-width="1.5"/>
<rect x="1151.7" y="669.7" width="20.8" height="301.5" fill="#fff" stroke="#000" stroke-width="1.5"/>
<rect x="1220.4" y="881.9" width="21.2" height="89.3" fill="#000" stroke="#000" stroke-width="1.5"/>
<rect x="1248.3" y="909.0" width="20.2" height="62.2" fill="#82c6e6" stroke="#000" stroke-width="1.5"/>
<rect x="1275.6" y="894.5" width="20.6" height="76.7" fill="#f7a84c" stroke="#000" stroke-width="1.5"/>
<rect x="1303.4" y="891.1" width="20.3" height="80.1" fill="#fff" stroke="#000" stroke-width="1.5"/>
<rect x="1371.8" y="907.7" width="20.8" height="63.5" fill="#000" stroke="#000" stroke-width="1.5"/>
<rect x="1399.4" y="898.4" width="20.5" height="72.8" fill="#82c6e6" stroke="#000" stroke-width="1.5"/>
<rect x="1427.1" y="899.6" width="20.4" height="71.6" fill="#f7a84c" stroke="#000" stroke-width="1.5"/>
<rect x="1454.4" y="900.3" width="20.6" height="70.9" fill="#fff" stroke="#000" stroke-width="1.5"/>
<line x1="893.5" y1="591.5" x2="893.5" y2="976.5" stroke="#000" stroke-width="1.5"/>
<line x1="892.8" y1="971.2" x2="1499.8" y2="971.2" stroke="#000" stroke-width="1.5"/>
<line x1="888.0" y1="971.2" x2="893.5" y2="971.2" stroke="#000" stroke-width="1.5"/>
<text transform="translate(887.0,985.2) scale(0.96,1.04)" font-size="39" text-anchor="end" >0.1</text>
<line x1="888.0" y1="876.5" x2="893.5" y2="876.5" stroke="#000" stroke-width="1.5"/>
<text transform="translate(887.0,890.5) scale(0.96,1.04)" font-size="39" text-anchor="end" >1</text>
<line x1="888.0" y1="781.8" x2="893.5" y2="781.8" stroke="#000" stroke-width="1.5"/>
<text transform="translate(887.0,795.8) scale(0.96,1.04)" font-size="39" text-anchor="end" >10</text>
<line x1="888.0" y1="687.0" x2="893.5" y2="687.0" stroke="#000" stroke-width="1.5"/>
<text transform="translate(887.0,701.0) scale(0.96,1.04)" font-size="39" text-anchor="end" >100</text>
<line x1="888.0" y1="592.3" x2="893.5" y2="592.3" stroke="#000" stroke-width="1.5"/>
<text transform="translate(887.0,606.3) scale(0.96,1.04)" font-size="39" text-anchor="end" >1000</text>
<line x1="893.5" y1="971.2" x2="893.5" y2="976.5" stroke="#000" stroke-width="1.5" stroke-linecap="round"/>
<line x1="1045.0" y1="971.2" x2="1045.0" y2="976.5" stroke="#000" stroke-width="1.5" stroke-linecap="round"/>
<line x1="1196.6" y1="971.2" x2="1196.6" y2="976.5" stroke="#000" stroke-width="1.5" stroke-linecap="round"/>
<line x1="1347.9" y1="971.2" x2="1347.9" y2="976.5" stroke="#000" stroke-width="1.5" stroke-linecap="round"/>
<line x1="1499.0" y1="971.2" x2="1499.0" y2="976.5" stroke="#000" stroke-width="1.5" stroke-linecap="round"/>
<path d="M928.1 906.5V935.1M923.7 906.5H932.5M923.7 935.1H932.5" stroke="#555" stroke-width="1.6" fill="none"/>
<circle cx="928.1" cy="881.4" r="2.1" fill="#fff" stroke="#222" stroke-width="0.8"/>
<circle cx="928.1" cy="905.3" r="2.1" fill="#fff" stroke="#222" stroke-width="0.8"/>
<circle cx="928.1" cy="907.8" r="2.1" fill="#fff" stroke="#222" stroke-width="0.8"/>
<circle cx="928.1" cy="919.5" r="2.1" fill="#fff" stroke="#222" stroke-width="0.8"/>
<circle cx="928.1" cy="924.4" r="2.1" fill="#fff" stroke="#222" stroke-width="0.8"/>
<circle cx="928.1" cy="927.2" r="2.1" fill="#fff" stroke="#222" stroke-width="0.8"/>
<circle cx="928.1" cy="933.9" r="2.1" fill="#fff" stroke="#222" stroke-width="0.8"/>
<circle cx="928.1" cy="937.3" r="2.1" fill="#fff" stroke="#222" stroke-width="0.8"/>
<circle cx="928.1" cy="946.7" r="2.1" fill="#fff" stroke="#222" stroke-width="0.8"/>
<circle cx="928.1" cy="969.4" r="2.1" fill="#fff" stroke="#222" stroke-width="0.8"/>
<path d="M955.8 872.9V887.9M951.4 872.9H960.2M951.4 887.9H960.2" stroke="#555" stroke-width="1.6" fill="none"/>
<circle cx="955.8" cy="861.9" r="2.1" fill="#82c6e6" stroke="#222" stroke-width="0.8"/>
<circle cx="955.8" cy="868.2" r="2.1" fill="#82c6e6" stroke="#222" stroke-width="0.8"/>
<circle cx="955.8" cy="871.6" r="2.1" fill="#82c6e6" stroke="#222" stroke-width="0.8"/>
<circle cx="955.8" cy="875.3" r="2.1" fill="#82c6e6" stroke="#222" stroke-width="0.8"/>
<circle cx="955.8" cy="878.2" r="2.1" fill="#82c6e6" stroke="#222" stroke-width="0.8"/>
<circle cx="955.8" cy="883.8" r="2.1" fill="#82c6e6" stroke="#222" stroke-width="0.8"/>
<circle cx="955.8" cy="889.1" r="2.1" fill="#82c6e6" stroke="#222" stroke-width="0.8"/>
<circle cx="955.8" cy="893.2" r="2.1" fill="#82c6e6" stroke="#222" stroke-width="0.8"/>
<circle cx="955.8" cy="896.0" r="2.1" fill="#82c6e6" stroke="#222" stroke-width="0.8"/>
<circle cx="955.8" cy="919.5" r="2.1" fill="#82c6e6" stroke="#222" stroke-width="0.8"/>
<path d="M983.2 903.9V916.6M978.9 903.9H987.6M978.9 916.6H987.6" stroke="#555" stroke-width="1.6" fill="none"/>
<circle cx="983.2" cy="888.7" r="2.1" fill="#f7a84c" stroke="#222" stroke-width="0.8"/>
<circle cx="983.2" cy="898.9" r="2.1" fill="#f7a84c" stroke="#222" stroke-width="0.8"/>
<circle cx="983.2" cy="901.1" r="2.1" fill="#f7a84c" stroke="#222" stroke-width="0.8"/>
<circle cx="983.2" cy="909.6" r="2.1" fill="#f7a84c" stroke="#222" stroke-width="0.8"/>
<circle cx="983.2" cy="912.6" r="2.1" fill="#f7a84c" stroke="#222" stroke-width="0.8"/>
<circle cx="983.2" cy="917.5" r="2.1" fill="#f7a84c" stroke="#222" stroke-width="0.8"/>
<circle cx="983.2" cy="921.1" r="2.1" fill="#f7a84c" stroke="#222" stroke-width="0.8"/>
<circle cx="983.2" cy="923.6" r="2.1" fill="#f7a84c" stroke="#222" stroke-width="0.8"/>
<circle cx="983.2" cy="926.4" r="2.1" fill="#f7a84c" stroke="#222" stroke-width="0.8"/>
<path d="M1010.5 877.0V886.7M1006.1 877.0H1014.9M1006.1 886.7H1014.9" stroke="#555" stroke-width="1.6" fill="none"/>
<circle cx="1010.5" cy="864.8" r="2.1" fill="#fff" stroke="#222" stroke-width="0.8"/>
<circle cx="1010.5" cy="873.1" r="2.1" fill="#fff" stroke="#222" stroke-width="0.8"/>
<circle cx="1010.5" cy="877.7" r="2.1" fill="#fff" stroke="#222" stroke-width="0.8"/>
<circle cx="1010.5" cy="881.6" r="2.1" fill="#fff" stroke="#222" stroke-width="0.8"/>
<circle cx="1010.5" cy="885.3" r="2.1" fill="#fff" stroke="#222" stroke-width="0.8"/>
<circle cx="1010.5" cy="889.5" r="2.1" fill="#fff" stroke="#222" stroke-width="0.8"/>
<circle cx="1010.5" cy="892.8" r="2.1" fill="#fff" stroke="#222" stroke-width="0.8"/>
<path d="M1079.2 871.5V900.7M1074.8 871.5H1083.7M1074.8 900.7H1083.7" stroke="#555" stroke-width="1.6" fill="none"/>
<circle cx="1079.2" cy="853.1" r="2.1" fill="#fff" stroke="#222" stroke-width="0.8"/>
<circle cx="1079.2" cy="861.7" r="2.1" fill="#fff" stroke="#222" stroke-width="0.8"/>
<circle cx="1079.2" cy="882.3" r="2.1" fill="#fff" stroke="#222" stroke-width="0.8"/>
<circle cx="1079.2" cy="892.5" r="2.1" fill="#fff" stroke="#222" stroke-width="0.8"/>
<circle cx="1079.2" cy="898.4" r="2.1" fill="#fff" stroke="#222" stroke-width="0.8"/>
<circle cx="1079.2" cy="905.4" r="2.1" fill="#fff" stroke="#222" stroke-width="0.8"/>
<circle cx="1079.2" cy="908.3" r="2.1" fill="#fff" stroke="#222" stroke-width="0.8"/>
<circle cx="1079.2" cy="912.0" r="2.1" fill="#fff" stroke="#222" stroke-width="0.8"/>
<circle cx="1079.2" cy="920.1" r="2.1" fill="#fff" stroke="#222" stroke-width="0.8"/>
<path d="M1106.9 879.4V890.2M1102.5 879.4H1111.3M1102.5 890.2H1111.3" stroke="#555" stroke-width="1.6" fill="none"/>
<circle cx="1106.9" cy="871.5" r="2.1" fill="#82c6e6" stroke="#222" stroke-width="0.8"/>
<circle cx="1106.9" cy="874.4" r="2.1" fill="#82c6e6" stroke="#222" stroke-width="0.8"/>
<circle cx="1106.9" cy="877.4" r="2.1" fill="#82c6e6" stroke="#222" stroke-width="0.8"/>
<circle cx="1106.9" cy="882.0" r="2.1" fill="#82c6e6" stroke="#222" stroke-width="0.8"/>
<circle cx="1106.9" cy="887.0" r="2.1" fill="#82c6e6" stroke="#222" stroke-width="0.8"/>
<circle cx="1106.9" cy="890.6" r="2.1" fill="#82c6e6" stroke="#222" stroke-width="0.8"/>
<circle cx="1106.9" cy="894.1" r="2.1" fill="#82c6e6" stroke="#222" stroke-width="0.8"/>
<circle cx="1106.9" cy="898.8" r="2.1" fill="#82c6e6" stroke="#222" stroke-width="0.8"/>
<path d="M1134.3 679.2V683.6M1129.9 679.2H1138.8M1129.9 683.6H1138.8" stroke="#555" stroke-width="1.6" fill="none"/>
<circle cx="1134.3" cy="674.6" r="2.1" fill="#f7a84c" stroke="#222" stroke-width="0.8"/>
<circle cx="1134.3" cy="676.8" r="2.1" fill="#f7a84c" stroke="#222" stroke-width="0.8"/>
<circle cx="1134.3" cy="682.1" r="2.1" fill="#f7a84c" stroke="#222" stroke-width="0.8"/>
<circle cx="1134.3" cy="685.8" r="2.1" fill="#f7a84c" stroke="#222" stroke-width="0.8"/>
<circle cx="1134.3" cy="688.2" r="2.1" fill="#f7a84c" stroke="#222" stroke-width="0.8"/>
<path d="M1162.1 666.3V672.1M1157.7 666.3H1166.5M1157.7 672.1H1166.5" stroke="#555" stroke-width="1.6" fill="none"/>
<circle cx="1162.1" cy="663.9" r="2.1" fill="#fff" stroke="#222" stroke-width="0.8"/>
<circle cx="1162.1" cy="668.5" r="2.1" fill="#fff" stroke="#222" stroke-width="0.8"/>
<circle cx="1162.1" cy="672.4" r="2.1" fill="#fff" stroke="#222" stroke-width="0.8"/>
<circle cx="1162.1" cy="675.3" r="2.1" fill="#fff" stroke="#222" stroke-width="0.8"/>
<circle cx="1162.1" cy="678.7" r="2.1" fill="#fff" stroke="#222" stroke-width="0.8"/>
<path d="M1231.0 872.9V892.2M1226.6 872.9H1235.4M1226.6 892.2H1235.4" stroke="#555" stroke-width="1.6" fill="none"/>
<circle cx="1231.0" cy="862.3" r="2.1" fill="#fff" stroke="#222" stroke-width="0.8"/>
<circle cx="1231.0" cy="866.6" r="2.1" fill="#fff" stroke="#222" stroke-width="0.8"/>
<circle cx="1231.0" cy="871.0" r="2.1" fill="#fff" stroke="#222" stroke-width="0.8"/>
<circle cx="1231.0" cy="874.5" r="2.1" fill="#fff" stroke="#222" stroke-width="0.8"/>
<circle cx="1231.0" cy="877.6" r="2.1" fill="#fff" stroke="#222" stroke-width="0.8"/>
<circle cx="1231.0" cy="880.2" r="2.1" fill="#fff" stroke="#222" stroke-width="0.8"/>
<circle cx="1231.0" cy="916.7" r="2.1" fill="#fff" stroke="#222" stroke-width="0.8"/>
<circle cx="1231.0" cy="927.2" r="2.1" fill="#fff" stroke="#222" stroke-width="0.8"/>
<path d="M1258.4 905.3V912.1M1254.0 905.3H1262.8M1254.0 912.1H1262.8" stroke="#555" stroke-width="1.6" fill="none"/>
<circle cx="1258.4" cy="897.7" r="2.1" fill="#82c6e6" stroke="#222" stroke-width="0.8"/>
<circle cx="1258.4" cy="903.0" r="2.1" fill="#82c6e6" stroke="#222" stroke-width="0.8"/>
<circle cx="1258.4" cy="904.7" r="2.1" fill="#82c6e6" stroke="#222" stroke-width="0.8"/>
<circle cx="1258.4" cy="907.9" r="2.1" fill="#82c6e6" stroke="#222" stroke-width="0.8"/>
<circle cx="1258.4" cy="911.3" r="2.1" fill="#82c6e6" stroke="#222" stroke-width="0.8"/>
<circle cx="1258.4" cy="917.2" r="2.1" fill="#82c6e6" stroke="#222" stroke-width="0.8"/>
<path d="M1285.9 887.8V901.6M1281.5 887.8H1290.3M1281.5 901.6H1290.3" stroke="#555" stroke-width="1.6" fill="none"/>
<circle cx="1285.9" cy="872.8" r="2.1" fill="#f7a84c" stroke="#222" stroke-width="0.8"/>
<circle cx="1285.9" cy="884.1" r="2.1" fill="#f7a84c" stroke="#222" stroke-width="0.8"/>
<circle cx="1285.9" cy="886.1" r="2.1" fill="#f7a84c" stroke="#222" stroke-width="0.8"/>
<circle cx="1285.9" cy="893.3" r="2.1" fill="#f7a84c" stroke="#222" stroke-width="0.8"/>
<circle cx="1285.9" cy="898.0" r="2.1" fill="#f7a84c" stroke="#222" stroke-width="0.8"/>
<circle cx="1285.9" cy="902.5" r="2.1" fill="#f7a84c" stroke="#222" stroke-width="0.8"/>
<circle cx="1285.9" cy="906.0" r="2.1" fill="#f7a84c" stroke="#222" stroke-width="0.8"/>
<circle cx="1285.9" cy="910.4" r="2.1" fill="#f7a84c" stroke="#222" stroke-width="0.8"/>
<path d="M1313.6 887.5V894.6M1309.2 887.5H1318.0M1309.2 894.6H1318.0" stroke="#555" stroke-width="1.6" fill="none"/>
<circle cx="1313.6" cy="878.9" r="2.1" fill="#fff" stroke="#222" stroke-width="0.8"/>
<circle cx="1313.6" cy="885.0" r="2.1" fill="#fff" stroke="#222" stroke-width="0.8"/>
<circle cx="1313.6" cy="888.9" r="2.1" fill="#fff" stroke="#222" stroke-width="0.8"/>
<circle cx="1313.6" cy="892.9" r="2.1" fill="#fff" stroke="#222" stroke-width="0.8"/>
<circle cx="1313.6" cy="896.4" r="2.1" fill="#fff" stroke="#222" stroke-width="0.8"/>
<circle cx="1313.6" cy="899.5" r="2.1" fill="#fff" stroke="#222" stroke-width="0.8"/>
<path d="M1382.2 898.7V918.4M1377.8 898.7H1386.6M1377.8 918.4H1386.6" stroke="#555" stroke-width="1.6" fill="none"/>
<circle cx="1382.2" cy="886.6" r="2.1" fill="#fff" stroke="#222" stroke-width="0.8"/>
<circle cx="1382.2" cy="888.4" r="2.1" fill="#fff" stroke="#222" stroke-width="0.8"/>
<circle cx="1382.2" cy="896.7" r="2.1" fill="#fff" stroke="#222" stroke-width="0.8"/>
<circle cx="1382.2" cy="900.6" r="2.1" fill="#fff" stroke="#222" stroke-width="0.8"/>
<circle cx="1382.2" cy="908.7" r="2.1" fill="#fff" stroke="#222" stroke-width="0.8"/>
<circle cx="1382.2" cy="916.4" r="2.1" fill="#fff" stroke="#222" stroke-width="0.8"/>
<circle cx="1382.2" cy="924.7" r="2.1" fill="#fff" stroke="#222" stroke-width="0.8"/>
<circle cx="1382.2" cy="929.1" r="2.1" fill="#fff" stroke="#222" stroke-width="0.8"/>
<circle cx="1382.2" cy="932.8" r="2.1" fill="#fff" stroke="#222" stroke-width="0.8"/>
<circle cx="1382.2" cy="939.3" r="2.1" fill="#fff" stroke="#222" stroke-width="0.8"/>
<path d="M1409.7 893.8V902.0M1405.2 893.8H1414.1M1405.2 902.0H1414.1" stroke="#555" stroke-width="1.6" fill="none"/>
<circle cx="1409.7" cy="888.2" r="2.1" fill="#82c6e6" stroke="#222" stroke-width="0.8"/>
<circle cx="1409.7" cy="892.9" r="2.1" fill="#82c6e6" stroke="#222" stroke-width="0.8"/>
<circle cx="1409.7" cy="898.0" r="2.1" fill="#82c6e6" stroke="#222" stroke-width="0.8"/>
<circle cx="1409.7" cy="902.0" r="2.1" fill="#82c6e6" stroke="#222" stroke-width="0.8"/>
<circle cx="1409.7" cy="905.7" r="2.1" fill="#82c6e6" stroke="#222" stroke-width="0.8"/>
<circle cx="1409.7" cy="907.5" r="2.1" fill="#82c6e6" stroke="#222" stroke-width="0.8"/>
<path d="M1437.3 894.3V904.1M1432.9 894.3H1441.7M1432.9 904.1H1441.7" stroke="#555" stroke-width="1.6" fill="none"/>
<circle cx="1437.3" cy="883.6" r="2.1" fill="#f7a84c" stroke="#222" stroke-width="0.8"/>
<circle cx="1437.3" cy="887.1" r="2.1" fill="#f7a84c" stroke="#222" stroke-width="0.8"/>
<circle cx="1437.3" cy="895.8" r="2.1" fill="#f7a84c" stroke="#222" stroke-width="0.8"/>
<circle cx="1437.3" cy="900.2" r="2.1" fill="#f7a84c" stroke="#222" stroke-width="0.8"/>
<circle cx="1437.3" cy="905.4" r="2.1" fill="#f7a84c" stroke="#222" stroke-width="0.8"/>
<circle cx="1437.3" cy="912.0" r="2.1" fill="#f7a84c" stroke="#222" stroke-width="0.8"/>
<path d="M1464.7 896.1V903.4M1460.3 896.1H1469.1M1460.3 903.4H1469.1" stroke="#555" stroke-width="1.6" fill="none"/>
<circle cx="1464.7" cy="892.3" r="2.1" fill="#fff" stroke="#222" stroke-width="0.8"/>
<circle cx="1464.7" cy="896.7" r="2.1" fill="#fff" stroke="#222" stroke-width="0.8"/>
<circle cx="1464.7" cy="900.2" r="2.1" fill="#fff" stroke="#222" stroke-width="0.8"/>
<circle cx="1464.7" cy="906.8" r="2.1" fill="#fff" stroke="#222" stroke-width="0.8"/>
<circle cx="1464.7" cy="912.2" r="2.1" fill="#fff" stroke="#222" stroke-width="0.8"/>
<text x="900.2" y="993.1" font-size="22.6">RPAP</text>
<text x="960.1" y="1005.8" font-size="34.5">CC</text>
<text x="1009.4" y="1005.8" font-size="39" font-weight="bold">G</text>
<text x="1051.0" y="993.1" font-size="22.6">RPAP</text>
<text x="1110.9" y="1005.8" font-size="34.5">CC</text>
<text x="1158.2" y="1005.8" font-size="39" font-weight="bold">C</text>
<text x="1202.7" y="993.1" font-size="22.6">RPAP</text>
<text x="1262.6" y="1005.8" font-size="34.5">CC</text>
<text x="1311.9" y="1005.8" font-size="39" font-weight="bold">U</text>
<text x="1356.3" y="993.1" font-size="22.6">RPAP</text>
<text x="1416.2" y="1005.8" font-size="34.5">CC</text>
<text x="1466.5" y="1005.8" font-size="39" font-weight="bold">A</text>
<rect x="906.5" y="592.5" width="22.8" height="23.0" rx="4.5" fill="#000" stroke="#000" stroke-width="1.6"/>
<rect x="906.5" y="628.7" width="22.8" height="22.6" rx="4.5" fill="#82c6e6" stroke="#000" stroke-width="1.6"/>
<rect x="906.5" y="664.9" width="22.8" height="22.5" rx="4.5" fill="#f7a84c" stroke="#000" stroke-width="1.6"/>
<rect x="906.5" y="701.1" width="22.8" height="22.2" rx="4.5" fill="#fff" stroke="#000" stroke-width="1.6"/>
<text x="933.5" y="617.8" font-size="38" >WT</text>
<text x="933.5" y="649.8" font-size="38">Δ<tspan font-style="italic">proK</tspan></text>
<text x="933.5" y="685.9" font-size="38">Δ<tspan font-style="italic">proL</tspan></text>
<text x="933.5" y="722.2" font-size="38">Δ<tspan font-style="italic">proK/L</tspan></text>
<text transform="translate(795.6,782.5) rotate(-90)" font-size="38.6" text-anchor="middle" >Pausing strength [RLU] x 10<tspan font-size="23" dy="-16">3</tspan></text>
</svg></body></html>
